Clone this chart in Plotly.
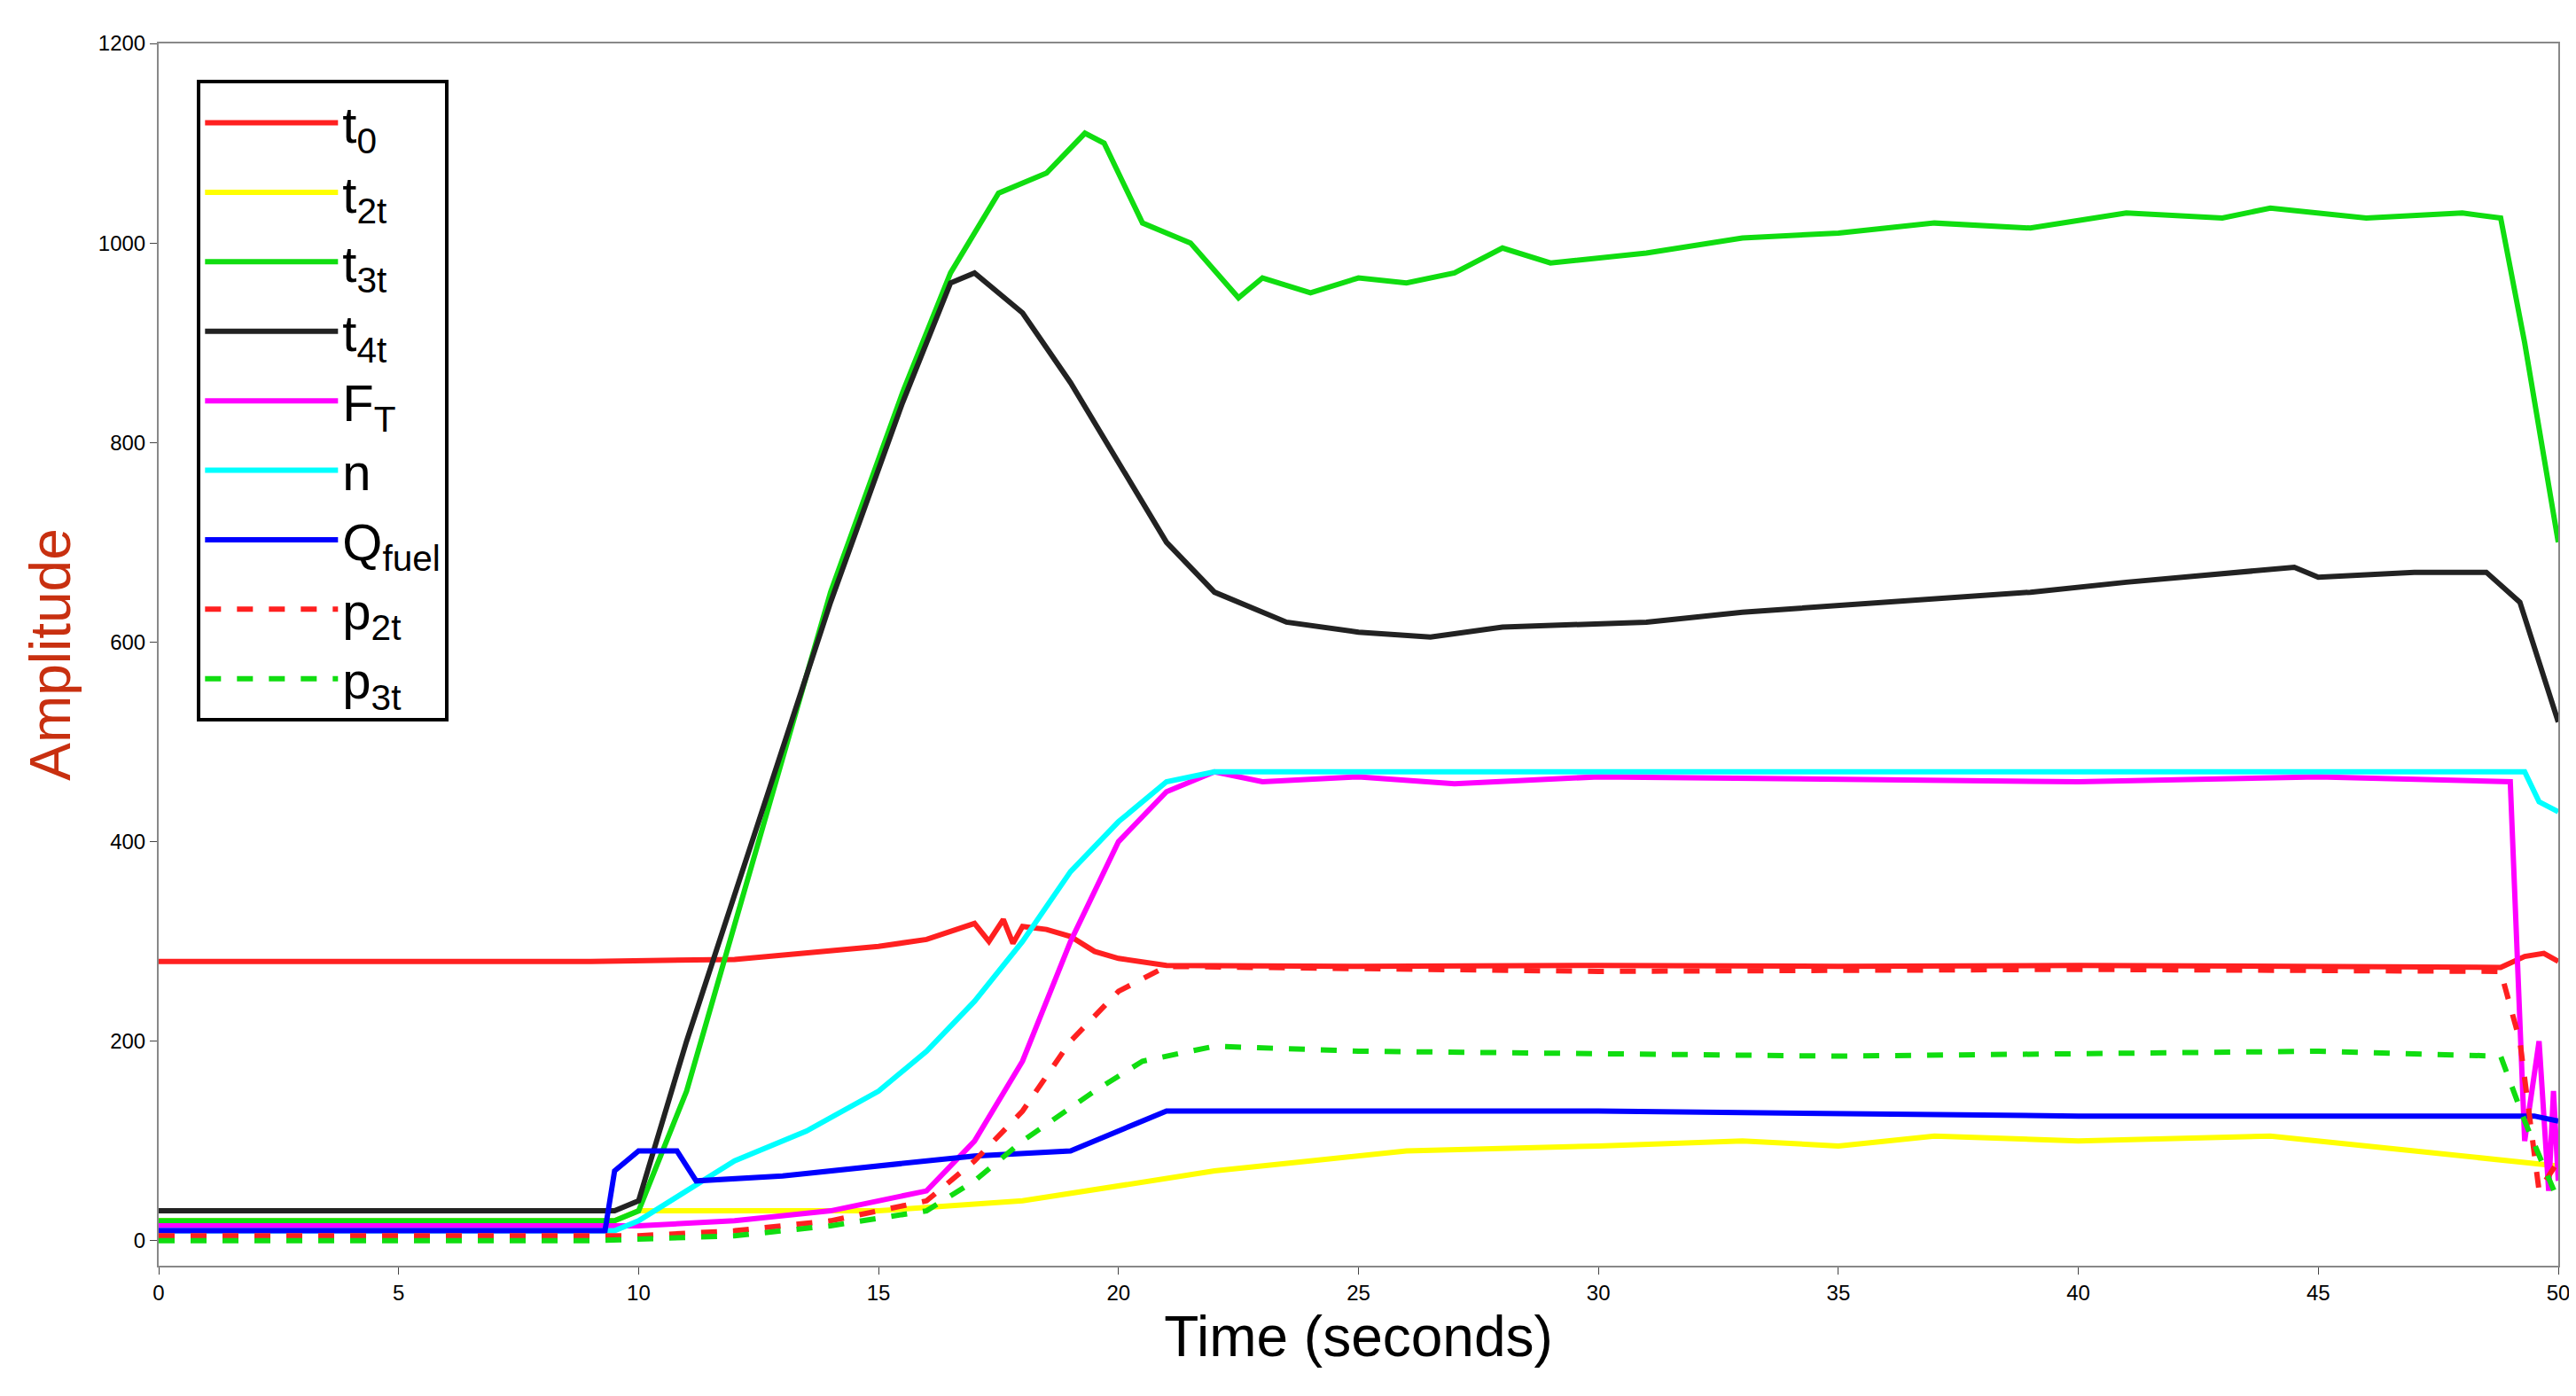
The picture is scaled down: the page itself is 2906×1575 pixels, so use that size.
import plotly.graph_objects as go

t0_x = [0, 9, 12, 14, 15, 16, 16.5, 17, 17.3, 17.6, 17.8, 18, 18.5, 19, 19.5, 20, 21, 25, 30, 35, 40, 45, 48.8, 49.3, 49.7, 50]
t0_y = [280, 280, 282, 290, 295, 302, 310, 318, 300, 322, 298, 315, 312, 305, 290, 283, 276, 275, 276, 275, 276, 275, 274, 285, 288, 280]
t21_x = [0, 9.5, 10, 15, 18, 20, 22, 24, 26, 30, 33, 35, 37, 40, 44, 47, 49, 50]
t21_y = [20, 20, 30, 30, 40, 55, 70, 80, 90, 95, 100, 95, 105, 100, 105, 90, 80, 75]
t31_x = [0, 9.5, 10, 11, 12.5, 14, 15.5, 16.5, 17.5, 18.5, 19.3, 19.7, 20.5, 21.5, 22.5, 23, 24, 25, 26, 27, 28, 29, 31, 33, 35, 37, 39, 41, 43, 44, 46, 48, 48.8, 49.3, 50]
t31_y = [20, 20, 30, 150, 400, 650, 850, 970, 1050, 1070, 1110, 1100, 1020, 1000, 945, 965, 950, 965, 960, 970, 995, 980, 990, 1005, 1010, 1020, 1015, 1030, 1025, 1035, 1025, 1030, 1025, 900, 700]
t41_x = [0, 9.5, 10, 11, 12.5, 14, 15.5, 16.5, 17, 18, 19, 20, 21, 22, 23.5, 25, 26.5, 28, 31, 33, 36, 39, 41, 43.5, 44.5, 45, 47, 48.5, 49.2, 50]
t41_y = [30, 30, 40, 200, 420, 640, 840, 960, 970, 930, 860, 780, 700, 650, 620, 610, 605, 615, 620, 630, 640, 650, 660, 670, 675, 665, 670, 670, 640, 520]
ft_x = [0, 10, 12, 14, 16, 17, 18, 19, 20, 21, 22, 23, 25, 27, 30, 35, 40, 45, 48.5, 49, 49.3, 49.6, 49.8, 49.9, 50]
ft_y = [15, 15, 20, 30, 50, 100, 180, 300, 400, 450, 470, 460, 465, 458, 465, 462, 460, 465, 460, 460, 100, 200, 50, 150, 60]
n_x = [0, 9.5, 10, 11, 12, 13.5, 15, 16, 17, 18, 19, 20, 21, 22, 30, 40, 48.5, 49.3, 49.6, 50]
n_y = [10, 10, 20, 50, 80, 110, 150, 190, 240, 300, 370, 420, 460, 470, 470, 470, 470, 470, 440, 430]
q_x = [0, 9.3, 9.5, 10, 10.8, 11.2, 13, 15, 17, 19, 20, 21, 30, 40, 49.5, 50]
q_y = [10, 10, 70, 90, 90, 60, 65, 75, 85, 90, 110, 130, 130, 125, 125, 120]
p21_x = [0, 10, 12, 14, 16, 17, 18, 19, 20, 21, 30, 40, 48.8, 49.2, 49.6, 50]
p21_y = [5, 5, 10, 20, 40, 80, 130, 200, 250, 275, 270, 272, 270, 200, 50, 80]
p31_x = [0, 9, 12, 14, 16, 17, 18, 19.5, 20.5, 22, 25, 35, 45, 48.8, 49.3, 50]
p31_y = [0, 0, 5, 15, 30, 60, 100, 150, 180, 195, 190, 185, 190, 185, 120, 40]

series = [
    ("t<sub>0</sub>", t0_x, t0_y, "#ff2020", "solid"),
    ("t<sub>2t</sub>", t21_x, t21_y, "#ffff00", "solid"),
    ("t<sub>3t</sub>", t31_x, t31_y, "#10dd10", "solid"),
    ("t<sub>4t</sub>", t41_x, t41_y, "#222222", "solid"),
    ("F<sub>T</sub>", ft_x, ft_y, "#ff00ff", "solid"),
    ("n", n_x, n_y, "#00ffff", "solid"),
    ("Q<sub>fuel</sub>", q_x, q_y, "#0000ff", "solid"),
    ("p<sub>2t</sub>", p21_x, p21_y, "#ff2020", "dash"),
    ("p<sub>3t</sub>", p31_x, p31_y, "#10dd10", "dash"),
]

fig = go.Figure()
for name, x, y, c, d in series:
    fig.add_trace(go.Scatter(x=x, y=y, name=name, mode="lines",
                             line=dict(color=c, width=6, dash=d)))

fig.update_layout(
    width=2906, height=1575, paper_bgcolor="white", plot_bgcolor="white",
    margin=dict(l=171, r=28, t=41, b=155),
    font=dict(family="Liberation Sans", color="black"),
    legend=dict(x=0.016, y=0.97, xanchor="left", yanchor="top",
                bordercolor="black", borderwidth=4, bgcolor="white",
                font=dict(size=58), tracegroupgap=0, itemwidth=150),
    showlegend=True,
)
axis = dict(showline=True, linecolor="#888", linewidth=2, mirror=True,
            showgrid=False, ticks="outside", ticklen=8, tickfont=dict(size=24), zeroline=False)
fig.update_xaxes(range=[0, 50], dtick=5, title=dict(text="Time (seconds)", font=dict(size=64), standoff=10), **axis)
fig.update_yaxes(range=[-25, 1200], dtick=200, title=dict(text="Amplitude", font=dict(size=64, color="#c83010"), standoff=10), **axis)
fig.write_html("out.html")
